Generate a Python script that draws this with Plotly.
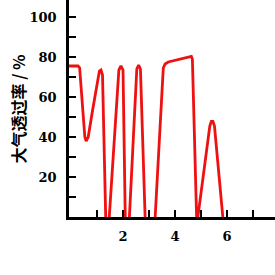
import plotly.graph_objects as go

# wavelength-like x values (axis units) and atmospheric transmittance (%)
x_vals = [-0.08, 0.27, 0.33, 0.40, 0.47, 0.53, 0.58, 0.66, 0.81, 1.00, 1.09, 1.15, 1.21, 1.34,
          1.45, 1.84, 1.92, 2.00, 2.09,
          2.23, 2.53, 2.60, 2.67, 2.86,
          3.22, 3.55, 3.62, 3.74, 4.56, 4.63, 4.67, 4.84,
          5.34, 5.40, 5.46, 5.52, 5.87]
y_vals = [75.5, 75.5, 74.5, 62, 46, 40, 38, 40, 52, 67, 73, 73.5, 71, -4,
          -4, 73.5, 75.5, 73.5, -4,
          -4, 74, 76, 74, -4,
          -4, 74.5, 76.5, 77.5, 80, 80.3, 79, -4,
          45.5, 47.8, 47.8, 45.5, -4]

x_ticks = [1, 2, 3, 4, 5, 6, 7]
x_labels = ["", "<b>2</b>", "", "<b>4</b>", "", "<b>6</b>", ""]
y_ticks = [20, 40, 60, 80, 100]
y_labels = ["<b>20</b>", "<b>40</b>", "<b>60</b>", "<b>80</b>", "<b>100</b>"]
y_title = "大气透过率 / %"

fig = go.Figure()
fig.add_trace(go.Scatter(x=x_vals, y=y_vals, mode="lines",
                         line=dict(color="#ee1111", width=2.8),
                         hoverinfo="skip", showlegend=False))

tick_font = dict(family="DejaVu Serif", size=13, color="black")
fig.update_layout(
    width=275, height=275,
    margin=dict(l=69, r=0, t=0, b=58),
    paper_bgcolor="white", plot_bgcolor="white",
    xaxis=dict(range=[-0.08, 7.85], tickvals=x_ticks, ticktext=x_labels,
               ticks="inside", ticklen=7, tickwidth=2, tickcolor="black",
               showline=True, linecolor="black", linewidth=2.5,
               showgrid=False, zeroline=False, tickfont=tick_font,
               ticklabelstandoff=6),
    yaxis=dict(range=[0, 108.5], tickvals=y_ticks, ticktext=y_labels,
               ticks="inside", ticklen=7, tickwidth=2, tickcolor="black",
               minor=dict(dtick=10, tick0=0, ticks="inside", ticklen=7,
                          tickwidth=2, tickcolor="black", showgrid=False),
               showline=True, linecolor="black", linewidth=2.5,
               showgrid=False, zeroline=False, tickfont=tick_font,
               ticklabelstandoff=7),
    annotations=[dict(text="<b>" + y_title + "</b>", xref="paper", yref="paper",
                      x=-0.248, y=0.5, xanchor="center", yanchor="middle",
                      textangle=-90, showarrow=False,
                      font=dict(family="Noto Sans CJK SC", size=16, color="black"))],
)

fig.write_html("out.html")
